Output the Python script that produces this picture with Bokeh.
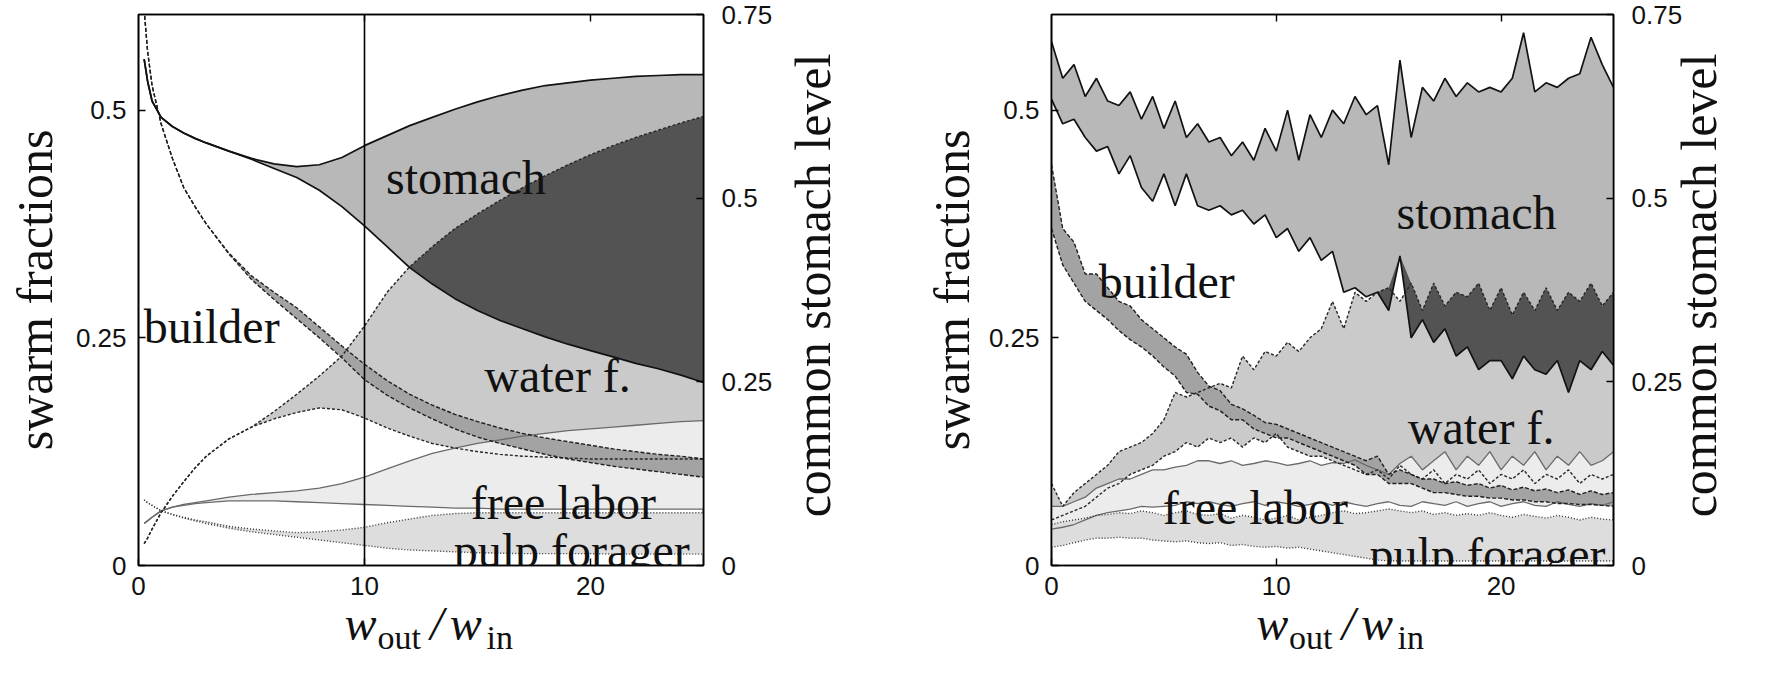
import numpy as np
from math import pi
from bokeh.plotting import figure
from bokeh.models import Range1d, LinearAxis, FixedTicker, Span, Label
from bokeh.layouts import row
from bokeh.embed import file_html
from bokeh.resources import INLINE

# ---------------- data: left panel (smooth) ----------------
x_a = [0.25, 0.4, 0.6, 1, 1.5, 2, 2.5, 3, 4, 5, 6, 7, 8, 9, 10, 11, 12, 13, 14, 15,
       16, 17, 18, 19, 20, 21, 22, 23, 24, 25]
stomach_hi_a = [0.556, 0.532, 0.510, 0.492, 0.482, 0.475, 0.469, 0.464, 0.455, 0.447,
                0.441, 0.438, 0.440, 0.448, 0.461, 0.472, 0.483, 0.492, 0.501, 0.509,
                0.516, 0.522, 0.527, 0.530, 0.533, 0.535, 0.537, 0.538, 0.539, 0.539]
stomach_lo_a = [0.556, 0.532, 0.510, 0.492, 0.482, 0.475, 0.469, 0.464, 0.455, 0.446,
                0.436, 0.426, 0.412, 0.394, 0.373, 0.350, 0.327, 0.309, 0.293, 0.280,
                0.269, 0.260, 0.251, 0.243, 0.236, 0.229, 0.222, 0.216, 0.209, 0.201]
water_hi_a = [0.024, 0.030, 0.040, 0.058, 0.076, 0.092, 0.107, 0.120, 0.139, 0.152,
              0.169, 0.188, 0.208, 0.230, 0.263, 0.300, 0.328, 0.350, 0.370, 0.386,
              0.401, 0.415, 0.428, 0.440, 0.451, 0.461, 0.470, 0.478, 0.486, 0.493]
water_lo_a = [0.024, 0.030, 0.040, 0.058, 0.076, 0.092, 0.107, 0.120, 0.139, 0.152,
              0.161, 0.168, 0.173, 0.171, 0.162, 0.151, 0.142, 0.134, 0.129, 0.125,
              0.122, 0.120, 0.119, 0.118, 0.117, 0.117, 0.117, 0.117, 0.117, 0.117]
builder_hi_a = [0.610, 0.565, 0.527, 0.485, 0.447, 0.415, 0.394, 0.375, 0.343, 0.318,
                0.300, 0.283, 0.262, 0.241, 0.221, 0.203, 0.188, 0.176, 0.166, 0.158,
                0.151, 0.145, 0.140, 0.136, 0.132, 0.128, 0.125, 0.122, 0.120, 0.117]
builder_lo_a = [0.610, 0.565, 0.527, 0.485, 0.447, 0.415, 0.394, 0.375, 0.342, 0.314,
                0.292, 0.271, 0.250, 0.228, 0.204, 0.187, 0.173, 0.161, 0.150, 0.141,
                0.134, 0.128, 0.122, 0.117, 0.113, 0.109, 0.106, 0.103, 0.100, 0.097]
free_hi_a = [0.046, 0.049, 0.053, 0.060, 0.064, 0.067, 0.069, 0.071, 0.075, 0.078,
             0.080, 0.082, 0.085, 0.090, 0.097, 0.106, 0.115, 0.123, 0.129, 0.134,
             0.138, 0.142, 0.145, 0.148, 0.150, 0.152, 0.154, 0.156, 0.158, 0.159]
free_lo_a = [0.046, 0.049, 0.053, 0.060, 0.064, 0.066, 0.068, 0.069, 0.071, 0.071,
             0.071, 0.070, 0.069, 0.068, 0.067, 0.066, 0.065, 0.064, 0.063, 0.063,
             0.062, 0.062, 0.062, 0.062, 0.062, 0.062, 0.062, 0.062, 0.062, 0.062]
pulp_hi_a = [0.072, 0.069, 0.066, 0.060, 0.056, 0.053, 0.050, 0.048, 0.043, 0.040,
             0.038, 0.036, 0.037, 0.039, 0.042, 0.047, 0.051, 0.055, 0.057, 0.058,
             0.058, 0.058, 0.058, 0.058, 0.058, 0.058, 0.058, 0.058, 0.058, 0.058]
pulp_lo_a = [0.072, 0.069, 0.066, 0.060, 0.056, 0.052, 0.049, 0.046, 0.041, 0.037,
             0.034, 0.031, 0.028, 0.025, 0.022, 0.019, 0.017, 0.016, 0.015, 0.014,
             0.0135, 0.013, 0.013, 0.013, 0.013, 0.0125, 0.0125, 0.0125, 0.0125, 0.0125]

# ---------------- data: right panel (noisy) ----------------
x_b = [0, 0.5, 1, 1.5, 2, 2.5, 3, 3.5, 4, 4.5, 5, 5.5, 6, 6.5, 7, 7.5, 8, 8.5, 9, 9.5,
       10, 10.5, 11, 11.5, 12, 12.5, 13, 13.5, 14, 14.5, 15, 15.5, 16, 16.5, 17, 17.5,
       18, 18.5, 19, 19.5, 20, 20.5, 21, 21.5, 22, 22.5, 23, 23.5, 24, 24.5, 25]
stomach_hi_b = [0.575, 0.535, 0.550, 0.515, 0.535, 0.510, 0.505, 0.520, 0.490, 0.515,
                0.480, 0.510, 0.470, 0.485, 0.465, 0.470, 0.450, 0.465, 0.445, 0.480,
                0.455, 0.500, 0.445, 0.495, 0.470, 0.500, 0.485, 0.515, 0.495, 0.505,
                0.440, 0.555, 0.470, 0.525, 0.510, 0.535, 0.515, 0.530, 0.520, 0.525,
                0.520, 0.535, 0.585, 0.520, 0.530, 0.525, 0.535, 0.540, 0.580, 0.550,
                0.525]
stomach_lo_b = [0.512, 0.485, 0.490, 0.470, 0.455, 0.460, 0.430, 0.450, 0.415, 0.400,
                0.430, 0.395, 0.430, 0.395, 0.390, 0.395, 0.385, 0.390, 0.375, 0.385,
                0.360, 0.370, 0.345, 0.360, 0.335, 0.345, 0.300, 0.305, 0.295, 0.300,
                0.280, 0.340, 0.250, 0.270, 0.245, 0.260, 0.230, 0.240, 0.215, 0.225,
                0.225, 0.205, 0.230, 0.215, 0.210, 0.225, 0.190, 0.225, 0.215, 0.235,
                0.220]
water_hi_b = [0.090, 0.065, 0.080, 0.090, 0.100, 0.110, 0.125, 0.130, 0.135, 0.145,
              0.160, 0.190, 0.185, 0.190, 0.195, 0.200, 0.195, 0.230, 0.215, 0.235,
              0.230, 0.245, 0.235, 0.250, 0.260, 0.290, 0.260, 0.300, 0.290, 0.300,
              0.305, 0.290, 0.310, 0.280, 0.310, 0.285, 0.300, 0.295, 0.310, 0.280,
              0.305, 0.275, 0.300, 0.280, 0.305, 0.280, 0.300, 0.290, 0.310, 0.285,
              0.300]
water_lo_b = [0.050, 0.055, 0.060, 0.065, 0.075, 0.085, 0.090, 0.100, 0.105, 0.110,
              0.120, 0.125, 0.135, 0.130, 0.140, 0.135, 0.140, 0.130, 0.140, 0.135,
              0.145, 0.130, 0.125, 0.120, 0.120, 0.115, 0.110, 0.105, 0.100, 0.105,
              0.095, 0.110, 0.100, 0.095, 0.105, 0.090, 0.100, 0.095, 0.105, 0.090,
              0.100, 0.095, 0.105, 0.090, 0.100, 0.095, 0.105, 0.090, 0.100, 0.095,
              0.100]
builder_hi_b = [0.440, 0.370, 0.355, 0.320, 0.320, 0.305, 0.290, 0.285, 0.270, 0.260,
                0.250, 0.240, 0.232, 0.212, 0.197, 0.192, 0.177, 0.172, 0.165, 0.157,
                0.155, 0.150, 0.145, 0.140, 0.135, 0.130, 0.125, 0.120, 0.115, 0.120,
                0.100, 0.105, 0.100, 0.095, 0.095, 0.090, 0.092, 0.088, 0.090, 0.085,
                0.088, 0.083, 0.086, 0.082, 0.084, 0.080, 0.083, 0.078, 0.082, 0.078,
                0.080]
builder_lo_b = [0.370, 0.330, 0.310, 0.290, 0.280, 0.270, 0.258, 0.248, 0.240, 0.230,
                0.218, 0.208, 0.190, 0.188, 0.175, 0.170, 0.160, 0.160, 0.150, 0.145,
                0.140, 0.140, 0.135, 0.130, 0.125, 0.120, 0.115, 0.110, 0.100, 0.100,
                0.090, 0.090, 0.090, 0.085, 0.080, 0.080, 0.078, 0.076, 0.076, 0.074,
                0.074, 0.072, 0.072, 0.070, 0.070, 0.068, 0.068, 0.067, 0.067, 0.066,
                0.065]
free_hi_b = [0.065, 0.065, 0.070, 0.075, 0.085, 0.090, 0.095, 0.095, 0.100, 0.105,
             0.105, 0.108, 0.110, 0.115, 0.115, 0.112, 0.115, 0.110, 0.112, 0.115,
             0.113, 0.110, 0.112, 0.115, 0.110, 0.113, 0.112, 0.116, 0.110, 0.105,
             0.100, 0.112, 0.120, 0.105, 0.115, 0.125, 0.105, 0.120, 0.110, 0.125,
             0.105, 0.120, 0.110, 0.125, 0.105, 0.120, 0.110, 0.125, 0.110, 0.115,
             0.125]
free_lo_b = [0.040, 0.042, 0.045, 0.050, 0.055, 0.058, 0.060, 0.062, 0.065, 0.064,
             0.065, 0.066, 0.070, 0.068, 0.070, 0.067, 0.065, 0.068, 0.070, 0.066,
             0.070, 0.068, 0.065, 0.067, 0.070, 0.066, 0.070, 0.067, 0.065, 0.068,
             0.070, 0.066, 0.065, 0.070, 0.068, 0.066, 0.070, 0.065, 0.068, 0.070,
             0.065, 0.068, 0.070, 0.066, 0.065, 0.070, 0.067, 0.065, 0.068, 0.066,
             0.070]
pulp_hi_b = [0.045, 0.048, 0.050, 0.052, 0.055, 0.056, 0.058, 0.057, 0.060, 0.058,
             0.055, 0.058, 0.060, 0.056, 0.055, 0.057, 0.052, 0.055, 0.053, 0.050,
             0.052, 0.055, 0.050, 0.053, 0.055, 0.058, 0.060, 0.057, 0.058, 0.060,
             0.062, 0.060, 0.058, 0.060, 0.056, 0.058, 0.055, 0.057, 0.055, 0.058,
             0.055, 0.053, 0.056, 0.054, 0.052, 0.055, 0.053, 0.050, 0.053, 0.051,
             0.050]
pulp_lo_b = [0.020, 0.022, 0.025, 0.028, 0.030, 0.030, 0.031, 0.030, 0.030, 0.028,
             0.027, 0.026, 0.027, 0.025, 0.024, 0.025, 0.022, 0.023, 0.021, 0.020,
             0.021, 0.019, 0.020, 0.018, 0.016, 0.014, 0.012, 0.010, 0.008, 0.006,
             0.005, 0.005, 0.005, 0.005, 0.005, 0.005, 0.005, 0.005, 0.005, 0.005,
             0.005, 0.005, 0.005, 0.005, 0.005, 0.005, 0.005, 0.005, 0.005, 0.005,
             0.005]

# ticks and tick labels
x_ticks = [0, 10, 20]
left_ticks = [0, 0.25, 0.5]
left_tick_labels = ["0", "0.25", "0.5"]
right_ticks = [0, 0.25, 0.5, 0.75]
right_tick_labels = ["0", "0.25", "0.5", "0.75"]

# axis titles
y_title_left = "swarm fractions"
y_title_right = "common stomach level"
x_title_big = ["w", "/", "w"]      # italic parts of  w_out / w_in
x_title_sub = ["out", "in"]        # subscripts

# in-plot labels (text, x, y of left end of baseline)
labels_a = [("stomach", 10.95, 0.426), ("builder", 0.23, 0.262), ("water f.", 15.3, 0.209),
            ("free labor", 14.7, 0.069), ("pulp forager", 13.95, 0.017)]
labels_b = [("stomach", 15.35, 0.388), ("builder", 2.1, 0.312), ("water f.", 15.85, 0.152),
            ("free labor", 4.95, 0.064), ("pulp forager", 14.15, 0.012)]

SERIF = "Liberation Serif"
SANS = "Liberation Sans"
INK = "#111111"

C_STOM = "#b8b8b8"
C_WATER = "#cacaca"
C_DARK = "#535353"
C_BUILD = "#a3a3a3"
C_FREE = "#ececec"
C_PULP = "#dddddd"

FRAME_W = 568
FIG_H = 659
B_TOP = 14
B_BOTTOM = 94


def style_ticks(ax, standoff):
    ax.major_tick_in = 7
    ax.major_tick_out = 0
    ax.minor_tick_line_color = None
    ax.axis_line_width = 1.6
    ax.major_tick_line_width = 1.4
    ax.major_label_text_font = SANS
    ax.major_label_text_font_size = "26px"
    ax.major_label_text_color = INK
    ax.major_label_standoff = standoff


def bare(ax):
    ax.axis_line_color = None
    ax.major_tick_line_color = None
    ax.minor_tick_line_color = None
    ax.major_label_text_color = INK
    ax.major_label_text_font = SERIF


def make_panel(xs, s_hi, s_lo, w_hi, w_lo, b_hi, b_lo, f_hi, f_lo, p_hi, p_lo,
               texts, width, border_left, left_title_standoff, right_title_standoff,
               vline=False):
    p = figure(width=width, height=FIG_H, x_range=Range1d(0, 25), y_range=Range1d(0, 0.605),
               output_backend="svg", toolbar_location=None,
               min_border_left=border_left, min_border_right=width - border_left - FRAME_W,
               min_border_top=B_TOP, min_border_bottom=B_BOTTOM)
    p.extra_y_ranges = {"lvl": Range1d(0, 0.75)}
    p.xgrid.visible = False
    p.ygrid.visible = False
    p.outline_line_color = "black"
    p.outline_line_width = 1.6
    p.background_fill_color = "white"
    p.border_fill_color = "white"

    xs = np.array(xs)
    s_hi, s_lo, w_hi, w_lo = map(np.array, (s_hi, s_lo, w_hi, w_lo))
    ov_lo = np.maximum(s_lo, w_lo)
    ov_hi = np.maximum(np.minimum(s_hi, w_hi), ov_lo)

    p.varea(x=xs, y1=w_lo, y2=w_hi, fill_color=C_WATER)
    p.varea(x=xs, y1=s_lo, y2=s_hi, fill_color=C_STOM)
    p.varea(x=xs, y1=ov_lo, y2=ov_hi, fill_color=C_DARK)
    p.varea(x=xs, y1=f_lo, y2=f_hi, fill_color=C_FREE)
    p.varea(x=xs, y1=p_lo, y2=p_hi, fill_color=C_PULP)
    p.varea(x=xs, y1=b_lo, y2=b_hi, fill_color=C_BUILD)

    for y in (f_hi, f_lo):
        p.line(xs, y, line_color="#6a6a6a", line_width=1.3)
    for y in (p_hi, p_lo):
        p.line(xs, y, line_color="#333333", line_width=1.4, line_dash="1 2")
    for y in (w_hi, w_lo):
        p.line(xs, y, line_color="#262626", line_width=1.4, line_dash="3 2")
    for y in (b_hi, b_lo):
        p.line(xs, y, line_color="#202020", line_width=1.4, line_dash="4 2")
    for y in (s_hi, s_lo):
        p.line(xs, y, line_color="#121212", line_width=1.7)

    if vline:
        p.add_layout(Span(location=10, dimension="height", line_color="black", line_width=1.6))

    for t, tx, ty in texts:
        p.add_layout(Label(x=tx, y=ty, text=t, text_font=SERIF, text_font_size="48px",
                           text_color=INK, text_align="left", text_baseline="alphabetic"))

    # bottom axis with numbers
    ax = p.xaxis[0]
    ax.ticker = FixedTicker(ticks=x_ticks)
    ax.major_label_overrides = {v: str(v) for v in x_ticks}
    style_ticks(ax, 11)

    # x-axis title:  w_out / w_in  (two label rows of extra axes)
    px = FRAME_W / 25.0
    big_pos = [round(12.9 + d / px, 3) for d in (-70, 7, 36)]
    sub_pos = [round(12.9 + d / px, 3) for d in (-31, 70)]
    axb = LinearAxis(ticker=FixedTicker(ticks=big_pos))
    axb.major_label_overrides = dict(zip(big_pos, x_title_big))
    bare(axb)
    axb.major_label_text_font_size = "48px"
    axb.major_label_text_font_style = "italic"
    axb.major_label_standoff = -7
    p.add_layout(axb, "below")
    axs = LinearAxis(ticker=FixedTicker(ticks=sub_pos))
    axs.major_label_overrides = dict(zip(sub_pos, x_title_sub))
    bare(axs)
    axs.major_label_text_font_size = "34px"
    axs.major_label_standoff = -40
    p.add_layout(axs, "below")

    # left axis
    ay = p.yaxis[0]
    ay.ticker = FixedTicker(ticks=left_ticks)
    ay.major_label_overrides = dict(zip(left_ticks, left_tick_labels))
    style_ticks(ay, 12)
    ay.axis_label = y_title_left
    ay.axis_label_text_font = SERIF
    ay.axis_label_text_font_style = "normal"
    ay.axis_label_text_font_size = "50px"
    ay.axis_label_text_color = INK
    ay.axis_label_standoff = left_title_standoff

    # right axis (common stomach level)
    ar = LinearAxis(y_range_name="lvl", ticker=FixedTicker(ticks=right_ticks))
    ar.major_label_overrides = dict(zip(right_ticks, right_tick_labels))
    style_ticks(ar, 18)
    p.add_layout(ar, "right")
    # right title, reading bottom-to-top (anchor chosen so the text is centred)
    t_pos = 0.21
    art = LinearAxis(y_range_name="lvl", ticker=FixedTicker(ticks=[t_pos]))
    art.major_label_overrides = {t_pos: y_title_right}
    bare(art)
    art.major_label_text_font_size = "50px"
    art.major_label_orientation = pi / 2
    art.major_label_standoff = right_title_standoff
    p.add_layout(art, "right")

    # top axis: mirrored ticks only
    at = LinearAxis(ticker=FixedTicker(ticks=x_ticks[1:]))
    at.major_label_overrides = {v: "" for v in x_ticks[1:]}
    at.major_label_text_font_size = "1px"
    at.major_label_standoff = 0
    at.major_tick_in = 7
    at.major_tick_out = 0
    at.minor_tick_line_color = None
    at.axis_line_width = 1.6
    at.major_tick_line_width = 1.4
    p.add_layout(at, "above")
    return p


p1 = make_panel(x_a, stomach_hi_a, stomach_lo_a, water_hi_a, water_lo_a, builder_hi_a,
                builder_lo_a, free_hi_a, free_lo_a, pulp_hi_a, pulp_lo_a, labels_a,
                width=872, border_left=138, left_title_standoff=10,
                right_title_standoff=32, vline=True)
p2 = make_panel(x_b, stomach_hi_b, stomach_lo_b, water_hi_b, water_lo_b, builder_hi_b,
                builder_lo_b, free_hi_b, free_lo_b, pulp_hi_b, pulp_lo_b, labels_b,
                width=886, border_left=179, left_title_standoff=6,
                right_title_standoff=8)

layout = row(p1, p2)
open("out.html", "w").write(file_html(layout, INLINE))
